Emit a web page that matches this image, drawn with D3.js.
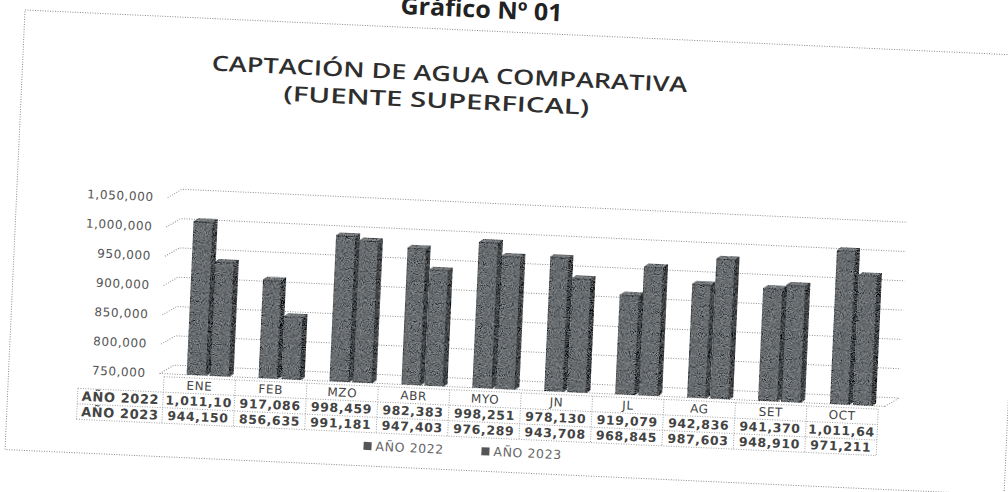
<!DOCTYPE html>
<meta charset="utf-8">
<style>

    body {
        margin: 0;
        background: #fff;
    }

    .tick-label, .cell text, .legend text {
        font-family: "DejaVu Sans", sans-serif;
        letter-spacing: 0.6px;
    }

    .grid line, .grid path {
        stroke: #8f8f8f;
        stroke-dasharray: 1, 1.5;
        fill: none;
    }

    .cell line {
        stroke: #a0a0a0;
        stroke-dasharray: 1, 1.5;
    }

</style>
<svg width="1008" height="492"></svg>
<script src="https://d3js.org/d3.v7.min.js"></script>
<script>
    var months = ["ENE", "FEB", "MZO", "ABR", "MYO", "JN", "JL", "AG", "SET", "OCT"];
    var series = ["AÑO 2022", "AÑO 2023"];
    var year2022 = [1011100, 917086, 998459, 982383, 998251, 978130, 919079, 942836, 941370, 1011640];
    var year2023 = [944150, 856635, 991181, 947403, 976289, 943708, 968845, 987603, 948910, 971211];
    var yTicks = [750000, 800000, 850000, 900000, 950000, 1000000, 1050000];

    var svg = d3.select("svg");

    // the scanned page sits slightly askew
    var g = svg.append("g")
        .attr("transform", "rotate(2.6,25,10)");

    var defs = svg.append("defs");
    var grain = defs.append("filter").attr("id", "grain")
        .attr("x", 0).attr("y", 0).attr("width", 1).attr("height", 1);
    grain.append("feTurbulence")
        .attr("type", "fractalNoise").attr("baseFrequency", 1.1)
        .attr("numOctaves", 1).attr("seed", 4).attr("result", "noise");
    grain.append("feColorMatrix")
        .attr("in", "noise").attr("type", "matrix")
        .attr("values", "0.33 0.33 0.33 0 0  0.33 0.33 0.33 0 0  0.33 0.33 0.33 0 0  0 0 0 0 1")
        .attr("result", "gray");
    grain.append("feComposite")
        .attr("in", "SourceGraphic").attr("in2", "gray")
        .attr("operator", "arithmetic")
        .attr("k1", 0).attr("k2", 1).attr("k3", 1.1).attr("k4", -0.55)
        .attr("result", "mix");
    grain.append("feComposite")
        .attr("in", "mix").attr("in2", "SourceGraphic").attr("operator", "in");

    var x0 = 180.5, colW = 71.5, depthX = 14, depthY = 9;
    var x = d3.scaleBand().domain(months).range([x0, x0 + colW * months.length]);
    var y = d3.scaleLinear().domain([750000, 1050000]).range([367, 191]);
    var fmt = d3.format(",");

    // outer frame
    g.append("rect")
        .attr("x", 25).attr("y", 10).attr("width", 1000).attr("height", 440)
        .attr("fill", "none").attr("stroke", "#8a8a8a")
        .attr("stroke-dasharray", "1,1.5");

    g.append("text")
        .attr("x", 481).attr("y", -3)
        .attr("text-anchor", "middle")
        .attr("textLength", 162).attr("lengthAdjust", "spacingAndGlyphs")
        .style("font", "bold 24px 'Open Sans', sans-serif")
        .style("fill", "#222")
        .text("Gráfico Nº 01");

    var titleLines = ["CAPTACIÓN DE AGUA COMPARATIVA", "(FUENTE SUPERFICAL)"];
    var titleWidths = [476, 306];
    g.append("g").selectAll("text")
        .data(titleLines)
        .enter().append("text")
        .attr("x", function (d, i) { return i ? 440 : 452; })
        .attr("y", function (d, i) { return 62 + i * 27; })
        .attr("text-anchor", "middle")
        .attr("textLength", function (d, i) { return titleWidths[i]; })
        .attr("lengthAdjust", "spacingAndGlyphs")
        .style("font", "600 21px 'Open Sans', sans-serif")
        .style("fill", "#2e2e2e")
        .text(function (d) { return d; });

    // back wall gridlines with the short side-wall stub
    var xStart = 176, xEnd = 902;
    var grid = g.append("g").attr("class", "grid");
    grid.selectAll("path")
        .data(yTicks)
        .enter().append("path")
        .attr("d", function (d) {
            return "M" + xStart + "," + y(d) + "L" + (xStart + depthX) + "," + (y(d) - depthY) +
                "L" + (xEnd + depthX) + "," + (y(d) - depthY);
        });
    grid.append("line")
        .attr("x1", xStart).attr("x2", xEnd)
        .attr("y1", y(750000)).attr("y2", y(750000));
    grid.append("line")
        .attr("x1", xEnd).attr("x2", xEnd + depthX)
        .attr("y1", y(750000)).attr("y2", y(750000) - depthY);

    g.append("g").selectAll("text")
        .data(yTicks)
        .enter().append("text")
        .attr("class", "tick-label")
        .attr("x", 162).attr("y", function (d) { return y(d); })
        .attr("dy", "0.35em")
        .attr("text-anchor", "end")
        .style("font-size", "12px").style("fill", "#555")
        .text(function (d) { return fmt(d); });

    // 3D columns
    var barW = 19, sideW = 4, sideH = 3, step = 23;
    var bars = [];
    months.forEach(function (m, i) {
        [year2022[i], year2023[i]].forEach(function (v, s) {
            bars.push({month: m, series: s, value: v});
        });
    });

    var bar = g.append("g").selectAll("g")
        .data(bars)
        .enter().append("g")
        .attr("filter", "url(#grain)");

    function left(d) { return x(d.month) + 23 + d.series * step; }

    bar.append("rect")
        .attr("x", left)
        .attr("y", function (d) { return y(d.value); })
        .attr("width", barW)
        .attr("height", function (d) { return y(750000) - y(d.value); })
        .attr("fill", "#696d70")
        .attr("stroke", "#33373a").attr("stroke-width", 0.7);
    bar.append("path")
        .attr("d", function (d) {
            var a = left(d) + barW, t = y(d.value), b = y(750000);
            return "M" + a + "," + t + "L" + (a + sideW) + "," + (t - sideH) +
                "L" + (a + sideW) + "," + (b - sideH) + "L" + a + "," + b + "Z";
        })
        .attr("fill", "#3f4346")
        .attr("stroke", "#2c3033").attr("stroke-width", 0.7);
    bar.append("path")
        .attr("d", function (d) {
            var a = left(d), t = y(d.value);
            return "M" + a + "," + t + "L" + (a + barW) + "," + t +
                "L" + (a + barW + sideW) + "," + (t - sideH) + "L" + (a + sideW) + "," + (t - sideH) + "Z";
        })
        .attr("fill", "#7d8184")
        .attr("stroke", "#33373a").attr("stroke-width", 0.7);

    // data table
    var rowTop = 370, rowH = 15.5;
    var cell = g.append("g").attr("class", "cell");
    var tableRight = x0 + colW * months.length;
    [0, 1, 2, 3].forEach(function (r) {
        cell.append("line")
            .attr("x1", r === 0 ? x0 : 95).attr("x2", tableRight)
            .attr("y1", rowTop + r * rowH).attr("y2", rowTop + r * rowH);
    });
    d3.range(months.length + 1).forEach(function (c) {
        cell.append("line")
            .attr("x1", x0 + c * colW).attr("x2", x0 + c * colW)
            .attr("y1", rowTop).attr("y2", rowTop + 3 * rowH);
    });
    cell.append("line")
        .attr("x1", 95).attr("x2", 95)
        .attr("y1", rowTop + rowH).attr("y2", rowTop + 3 * rowH);

    cell.selectAll(".month")
        .data(months)
        .enter().append("text")
        .attr("class", "month")
        .attr("x", function (d) { return x(d) + colW / 2; })
        .attr("y", rowTop + rowH / 2)
        .attr("dy", "0.35em")
        .attr("text-anchor", "middle")
        .style("font-size", "12px").style("fill", "#444")
        .text(function (d) { return d; });

    [year2022, year2023].forEach(function (vals, r) {
        var ry = rowTop + (r + 1.5) * rowH;
        cell.append("text")
            .attr("x", 138).attr("y", ry).attr("dy", "0.35em")
            .attr("text-anchor", "middle")
            .style("font-size", "13px").style("font-weight", "bold").style("fill", "#444")
            .text(series[r]);
        cell.selectAll(".v" + r)
            .data(vals)
            .enter().append("text")
            .attr("class", "v" + r)
            .attr("x", function (d, i) { return x(months[i]) + colW / 2; })
            .attr("y", ry).attr("dy", "0.35em")
            .attr("text-anchor", "middle")
            .style("font-size", "12.5px").style("font-weight", "bold").style("fill", "#444")
            // the spreadsheet cell clips long numbers
            .text(function (d) { return fmt(d).slice(0, 8); });
    });

    // legend
    var legend = g.append("g").attr("class", "legend")
        .selectAll("g")
        .data(series)
        .enter().append("g")
        .attr("transform", function (d, i) { return "translate(" + (383 + i * 118) + ",430)"; });
    legend.append("rect")
        .attr("x", 0).attr("y", -4).attr("width", 8).attr("height", 8)
        .attr("fill", "#555");
    legend.append("text")
        .attr("x", 12).attr("dy", "0.35em")
        .style("font-size", "12.5px").style("fill", "#666")
        .text(function (d) { return d; });

</script>
